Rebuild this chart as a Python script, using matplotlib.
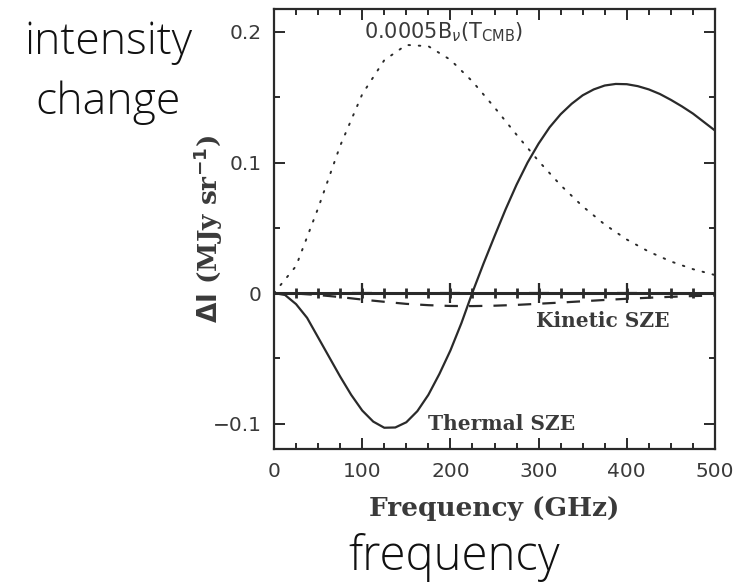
#!/usr/bin/env python
import matplotlib
matplotlib.use("Agg")
import matplotlib.pyplot as plt
import numpy as np
from matplotlib.ticker import MultipleLocator, FixedLocator

# frequency grid (GHz) and values (MJy/sr)
freq_thermal = [0, 12.5, 25, 37.5, 50, 62.5, 75, 87.5, 100, 112.5, 125, 137.5,
                150, 162.5, 175, 187.5, 200, 212.5, 225, 237.5, 250, 262.5,
                275, 287.5, 300, 312.5, 325, 337.5, 350, 362.5, 375, 387.5,
                400, 412.5, 425, 437.5, 450, 462.5, 475, 487.5, 500]
thermal_sze = [0, -0.0015, -0.0085, -0.019, -0.034, -0.049, -0.064, -0.078,
               -0.090, -0.0985, -0.1032, -0.1030, -0.0990, -0.0905, -0.0780,
               -0.0620, -0.0440, -0.0230, 0.0005, 0.0225, 0.0435, 0.0640,
               0.0830, 0.1000, 0.1145, 0.1270, 0.1370, 0.1450, 0.1515, 0.1560,
               0.1590, 0.1602, 0.1600, 0.1585, 0.1560, 0.1525, 0.1480, 0.1430,
               0.1375, 0.1310, 0.1245]

freq = [0, 25, 50, 75, 100, 125, 150, 175, 200, 225, 250, 275, 300, 325, 350,
        375, 400, 425, 450, 475, 500]
cmb = [0, 0.0207, 0.0650, 0.1128, 0.1523, 0.1784, 0.1901, 0.1891, 0.1787,
       0.1621, 0.1422, 0.1213, 0.1011, 0.0826, 0.0664, 0.0525, 0.0410, 0.0317,
       0.0242, 0.0183, 0.0138]
kinetic_sze = [0, -0.0004, -0.0015, -0.0031, -0.0050, -0.0067, -0.0083,
               -0.0093, -0.0099, -0.0100, -0.0097, -0.0091, -0.0082, -0.0073,
               -0.0063, -0.0053, -0.0044, -0.0036, -0.0029, -0.0023, -0.0019]

ytick_vals = [-0.1, 0, 0.1, 0.2]
ytick_labels = ["\u22120.1", "0", "0.1", "0.2"]
xtick_vals = [0, 100, 200, 300, 400, 500]
xminor_step = 25

ink = "#2a2a2a"
serif = "DejaVu Serif"
note_font = "Open Sans"

fig = plt.figure(figsize=(7.41, 5.82), dpi=100)
ax = fig.add_axes([0.3698, 0.2285, 0.5951, 0.756])

ax.plot(freq_thermal, thermal_sze, color=ink, lw=1.6)
ax.plot(freq, cmb, color=ink, lw=1.4, linestyle=(0, (0.8, 4.5)),
        dash_capstyle="round")
ax.plot(freq, kinetic_sze, color=ink, lw=1.6, dashes=(6, 5))

# zero line with its own tick marks
ax.axhline(0, color=ink, lw=2.2, zorder=3)
minor_pos = np.arange(0, 500 + 1, xminor_step)
ax.plot(minor_pos[1:-1], np.zeros(len(minor_pos) - 2), ls="none",
        marker="+", ms=7, mew=2.0, color=ink, zorder=6)
ax.plot(xtick_vals[1:-1], np.zeros(len(xtick_vals) - 2), ls="none",
        marker="+", ms=14, mew=1.6, color=ink, zorder=6)

ax.set_xlim(0, 500)
ax.set_ylim(-0.1195, 0.2176)

for s in ax.spines.values():
    s.set_linewidth(1.6)
    s.set_color(ink)

ax.xaxis.set_major_locator(FixedLocator(xtick_vals))
ax.xaxis.set_minor_locator(MultipleLocator(xminor_step))
ax.yaxis.set_major_locator(FixedLocator(ytick_vals))
ax.yaxis.set_minor_locator(MultipleLocator(0.05))
ax.set_yticklabels(ytick_labels)
ax.tick_params(which="both", direction="in", top=True, right=True,
               color=ink, width=1.4)
ax.tick_params(which="major", length=8, labelsize=14.5, labelcolor="#3a3a3a",
               pad=9)
ax.tick_params(which="minor", length=4)

ax.set_xlabel("Frequency (GHz)", family=serif, fontweight="bold",
              fontsize=19, color="#3a3a3a", labelpad=11)
ax.set_ylabel(r"$\mathbf{\Delta I}$ (MJy sr$^{\mathbf{-1}}$)", family=serif,
              fontweight="bold", fontsize=19, color="#3a3a3a", labelpad=-9)

ax.text(102, 0.2, r"0.0005B$_{\nu}$(T$_{\rm CMB}$)", fontsize=15,
        color="#3a3a3a", va="center", ha="left")
ax.text(297, -0.0215, "Kinetic SZE", family=serif, fontweight="bold",
        fontsize=14.5, color="#3a3a3a", va="center", ha="left")
ax.text(175, -0.1, "Thermal SZE", family=serif, fontweight="bold",
        fontsize=14.5, color="#3a3a3a", va="center", ha="left")

fig.text(108 / 741, 1 - 43 / 582, "intensity", family=note_font,
         fontweight="light", fontsize=32, ha="center", va="center",
         color="#111111")
fig.text(108 / 741, 1 - 103 / 582, "change", family=note_font,
         fontweight="light", fontsize=32, ha="center", va="center",
         color="#111111")
fig.text(454 / 741, 1 - 557 / 582, "frequency", family=note_font,
         fontweight="light", fontsize=34, ha="center", va="center",
         color="#111111")

plt.savefig("out.png", dpi=100)
